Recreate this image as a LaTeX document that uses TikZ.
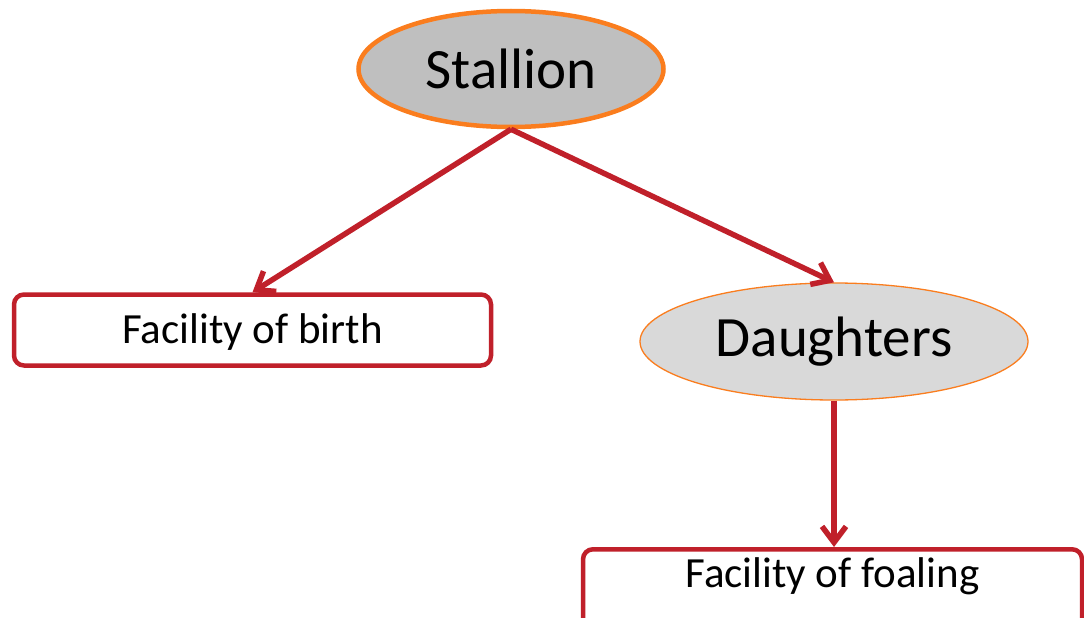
\documentclass[tikz,border=0pt]{standalone}
\usepackage{fontspec}
\setmainfont{Carlito}
\usetikzlibrary{positioning,arrows.meta,shapes.geometric}
\definecolor{brick}{HTML}{C0202A}
\definecolor{tangerine}{HTML}{FA7D1E}
\definecolor{stone}{HTML}{BFBFBF}
\definecolor{mist}{HTML}{D9D9D9}

\begin{document}
\begin{tikzpicture}[x=1pt,y=-1pt,
  oval/.style={ellipse,draw=tangerine,inner sep=0pt,font=\fontsize{57}{60}\selectfont},
  place/.style={draw=brick,line width=4.5pt,rounded corners=10pt,fill=white,inner sep=0pt,font=\fontsize{43}{46}\selectfont},
  link/.style={brick,line width=5.5pt,-{Straight Barb[length=16pt,width=24pt]}}]
\clip (0,0) rectangle (1084,618);
\node[oval,fill=stone,line width=4.5pt,minimum width=305pt,minimum height=116pt] (stallion) at (511,69) {Stallion};
\node[place,minimum width=477pt,text height=29pt,text depth=2pt,inner ysep=20pt] (birth) at (252.5,330) {Facility of birth};
\node[place,minimum width=499pt,text height=28pt,text depth=40pt,inner ysep=10pt,anchor=north] (foaling) at (832.5,547) {Facility of foaling};
\node[oval,fill=mist,line width=1.3pt,minimum width=388pt,minimum height=117pt] (daughters) at (834,341.5) {Daughters};
\draw[link] (stallion.south) -- (birth.north);
\draw[link] (stallion.south) -- (daughters.north);
\draw[link] (daughters.south) -- (daughters.south |- foaling.north);
\end{tikzpicture}
\end{document}
